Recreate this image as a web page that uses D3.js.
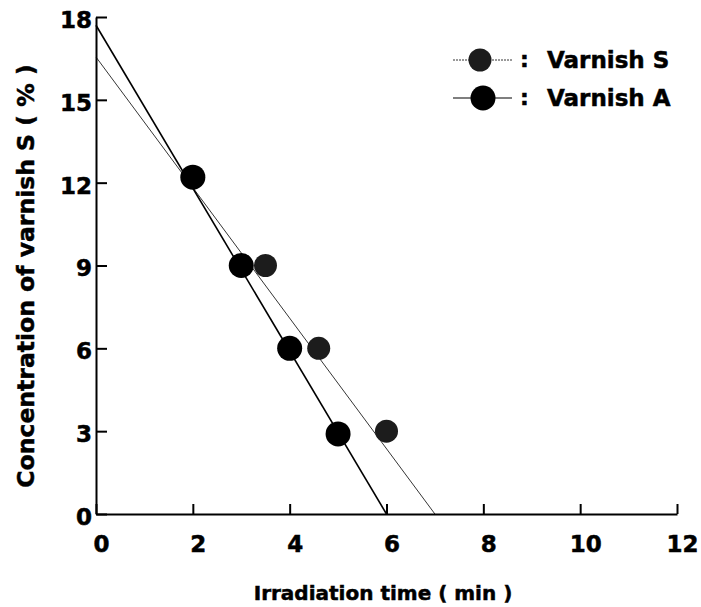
<html>
<head>
  <meta charset="utf8">
  <title>Concentration of varnish S</title>
  <style>
  * { margin: 0; padding: 0; }
  body { background: #fff; }
  text { font-family: "DejaVu Sans", Verdana, sans-serif; font-weight: bold; fill: #000; stroke: #000; stroke-width: 0.5px; }
  .axis path, .axis line { stroke: #000; stroke-width: 2px; }
  .fit { fill: none; stroke: #000; }
  </style>
</head>
<body>
  <script src="https://cdn.jsdelivr.net/npm/d3@7"></script>
  <script>
  // readings from the picture
  var timeA = [2, 3, 4, 5]
  var concA = [12.2, 9, 6, 2.9]
  var timeS = [2, 3.5, 4.6, 6]
  var concS = [12.2, 9, 6, 3]
  // fitted lines: value at t = 0 and time where they reach 0
  var fitA = [17.7, 6.0]
  var fitS = [16.55, 7.0]
  var xTicks = [0, 2, 4, 6, 8, 10, 12]
  var yTicks = [0, 3, 6, 9, 12, 15, 18]
  var seriesNames = ['Varnish S', 'Varnish A']

  var width = 701, height = 607
  var margin = {top: 17, right: 24, bottom: 93, left: 96}
  var w = width - margin.left - margin.right,
      h = height - margin.top - margin.bottom

  var svg = d3.select('body').append('svg')
    .attr('width', width)
    .attr('height', height)
  var g = svg.append('g')
    .attr('transform', 'translate(' + margin.left + ',' + margin.top + ')')

  var x = d3.scaleLinear().domain([0, 12]).range([0, w])
  var y = d3.scaleLinear().domain([0, 18]).range([h, 0])

  // axes, ticks point inside the plot
  var xAxis = g.append('g').attr('class', 'axis')
    .attr('transform', 'translate(0,' + h + ')')
    .call(d3.axisBottom(x).tickValues(xTicks).tickSize(-10).tickSizeOuter(0).tickPadding(22))
  xAxis.selectAll('text').style('font-size', '23px').attr('dx', 5)

  var yAxis = g.append('g').attr('class', 'axis')
    .call(d3.axisLeft(y).tickValues(yTicks).tickSize(-11).tickSizeOuter(0).tickPadding(4))
  yAxis.selectAll('text').style('font-size', '23px').attr('dy', '0.45em')

  // fit lines
  g.append('path').attr('class', 'fit')
    .attr('stroke-width', 0.8).attr('stroke', '#333')
    .attr('d', d3.line()([[x(0), y(fitS[0])], [x(fitS[1]), y(0)]]))
  g.append('path').attr('class', 'fit')
    .attr('stroke-width', 1.6)
    .attr('d', d3.line()([[x(0), y(fitA[0])], [x(fitA[1]), y(0)]]))

  // points
  g.selectAll('.ptS').data(timeS).enter().append('circle')
    .attr('class', 'ptS')
    .attr('cx', d => x(d))
    .attr('cy', (d, i) => y(concS[i]))
    .attr('r', 11.5)
    .attr('fill', '#1c1c1c')
  g.selectAll('.ptA').data(timeA).enter().append('circle')
    .attr('class', 'ptA')
    .attr('cx', d => x(d))
    .attr('cy', (d, i) => y(concA[i]))
    .attr('r', 12.5)
    .attr('fill', '#000')

  // legend
  var legend = svg.append('g')
  var rows = legend.selectAll('g').data(seriesNames).enter().append('g')
    .attr('transform', (d, i) => 'translate(453,' + (60 + i * 38) + ')')
  rows.append('line')
    .attr('x1', 0).attr('x2', 59)
    .attr('stroke', '#000')
    .attr('stroke-width', (d, i) => i ? 1.2 : 0.8)
    .attr('stroke-dasharray', (d, i) => i ? null : '2,1')
  rows.append('circle')
    .attr('cx', (d, i) => i ? 30 : 27)
    .attr('r', (d, i) => i ? 12.5 : 11.5)
    .attr('fill', (d, i) => i ? '#000' : '#1c1c1c')
  rows.append('text')
    .attr('x', 67).attr('y', 7)
    .style('font-size', '22px')
    .text(':')
  rows.append('text')
    .attr('x', 94).attr('y', 8)
    .style('font-size', '23px')
    .text(d => d)

  // axis titles
  svg.append('text')
    .attr('x', 383).attr('y', 600)
    .attr('text-anchor', 'middle')
    .style('font-size', '20px')
    .text('Irradiation time ( min )')
  svg.append('text')
    .attr('transform', 'translate(34,276) rotate(-90)')
    .attr('text-anchor', 'middle')
    .style('font-size', '23.5px')
    .text('Concentration of varnish S ( % )')
  </script>
</body>
</html>
